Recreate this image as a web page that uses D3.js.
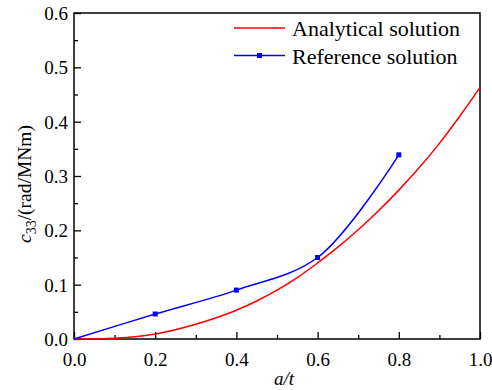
<!DOCTYPE html>
<html>
<head>
<meta charset="utf-8">
<script src="https://cdn.jsdelivr.net/npm/d3@7"></script>
<style>
  body { margin: 0; background: #fff; }
</style>
</head>
<body>
<div id="chart"></div>
<script>
// analytical solution
const analyticalX = [0, 0.05, 0.1, 0.15, 0.2, 0.25, 0.3, 0.35, 0.4, 0.45, 0.5, 0.55, 0.6, 0.65, 0.7, 0.75, 0.8, 0.85, 0.9, 0.95, 1.0];
const analyticalY = [0, 0.0002, 0.0015, 0.004, 0.009, 0.017, 0.027, 0.039, 0.053, 0.070, 0.090, 0.113, 0.140, 0.169, 0.201, 0.236, 0.274, 0.315, 0.360, 0.410, 0.463];
// reference solution points (square markers)
const referenceX = [0, 0.2, 0.4, 0.6, 0.8];
const referenceY = [0, 0.046, 0.09, 0.15, 0.339];

const seriesNames = ['Analytical solution', 'Reference solution'];
const seriesColors = ['#ff0000', '#0000ff'];
const xTicks = [0, 0.2, 0.4, 0.6, 0.8, 1.0];
const yTicks = [0, 0.1, 0.2, 0.3, 0.4, 0.5, 0.6];

const serif = 'Liberation Serif';
const width = 492, height = 390;
const margin = { top: 13, right: 12, bottom: 51, left: 74 };

const svg = d3.select('#chart').append('svg')
  .attr('width', width)
  .attr('height', height)
  .attr('font-family', serif);

const x = d3.scaleLinear().domain([0, 1]).range([margin.left, width - margin.right]);
const y = d3.scaleLinear().domain([0, 0.6]).range([height - margin.bottom, margin.top]);

// minor ticks first, then major
const xMinor = d3.range(0.1, 1.0, 0.2);
const yMinor = d3.range(0.05, 0.6, 0.1);

svg.append('g')
  .attr('transform', `translate(0,${y(0)})`)
  .call(d3.axisBottom(x).tickValues(xMinor).tickSize(-4).tickFormat(''))
  .call(g => g.select('.domain').remove())
  .selectAll('line').attr('stroke-width', 1.3);

svg.append('g')
  .attr('transform', `translate(${x(0)},0)`)
  .call(d3.axisLeft(y).tickValues(yMinor).tickSize(-4).tickFormat(''))
  .call(g => g.select('.domain').remove())
  .selectAll('line').attr('stroke-width', 1.3);

const xAxis = svg.append('g')
  .attr('transform', `translate(0,${y(0)})`)
  .call(d3.axisBottom(x).tickValues(xTicks).tickSize(-7).tickPadding(14).tickFormat(d3.format('.1f')))
  .attr('font-family', serif).attr('font-size', 19);
xAxis.select('.domain').remove();
xAxis.selectAll('line').attr('stroke-width', 1.3);

const yAxis = svg.append('g')
  .attr('transform', `translate(${x(0)},0)`)
  .call(d3.axisLeft(y).tickValues(yTicks).tickSize(-7).tickPadding(6).tickFormat(d3.format('.1f')))
  .attr('font-family', serif).attr('font-size', 19);
yAxis.select('.domain').remove();
yAxis.selectAll('line').attr('stroke-width', 1.3);
yAxis.selectAll('text').attr('dy', '0.34em');

// frame
svg.append('rect')
  .attr('x', x(0)).attr('y', y(0.6))
  .attr('width', x(1) - x(0)).attr('height', y(0) - y(0.6))
  .attr('fill', 'none').attr('stroke', '#000').attr('stroke-width', 1.5);

// analytical curve
const analytical = analyticalX.map((d, i) => [d, analyticalY[i]]);
svg.append('path')
  .datum(analytical)
  .attr('fill', 'none')
  .attr('stroke', seriesColors[0])
  .attr('stroke-width', 1.5)
  .attr('d', d3.line().x(d => x(d[0])).y(d => y(d[1])).curve(d3.curveMonotoneX));

// reference curve, spline through points
const reference = referenceX.map((d, i) => [d, referenceY[i]]);
svg.append('path')
  .datum(reference)
  .attr('fill', 'none')
  .attr('stroke', seriesColors[1])
  .attr('stroke-width', 1.5)
  .attr('d', d3.line().x(d => x(d[0])).y(d => y(d[1])).curve(d3.curveCatmullRom.alpha(0.5)));

svg.selectAll('.marker')
  .data(reference.slice(1))
  .enter()
  .append('rect')
  .attr('class', 'marker')
  .attr('x', d => x(d[0]) - 2.5)
  .attr('y', d => y(d[1]) - 2.5)
  .attr('width', 5).attr('height', 5)
  .attr('fill', seriesColors[1]);

// legend
const legend = svg.append('g').attr('transform', 'translate(234,28)');
seriesNames.forEach((name, i) => {
  const row = legend.append('g').attr('transform', `translate(0,${i * 27.5})`);
  row.append('line')
    .attr('x1', 0).attr('x2', 51)
    .attr('stroke', seriesColors[i]).attr('stroke-width', 1.5);
  if (i === 1) {
    row.append('rect')
      .attr('x', 23).attr('y', -2.5).attr('width', 5).attr('height', 5)
      .attr('fill', seriesColors[i]);
  }
  row.append('text')
    .attr('x', 58).attr('y', 8)
    .attr('font-size', 22)
    .text(name);
});

// axis titles
svg.append('text')
  .attr('x', 284).attr('y', 385)
  .attr('text-anchor', 'middle')
  .attr('font-size', 19)
  .attr('font-style', 'italic')
  .text('a/t');

const yTitle = svg.append('text')
  .attr('transform', 'translate(31,184) rotate(-90)')
  .attr('text-anchor', 'middle')
  .attr('font-size', 19.5);
yTitle.append('tspan').attr('font-style', 'italic').text('c');
yTitle.append('tspan').attr('dy', 5).attr('font-size', 14).text('33');
yTitle.append('tspan').attr('dy', -5).text('/(rad/MNm)');
</script>
</body>
</html>
